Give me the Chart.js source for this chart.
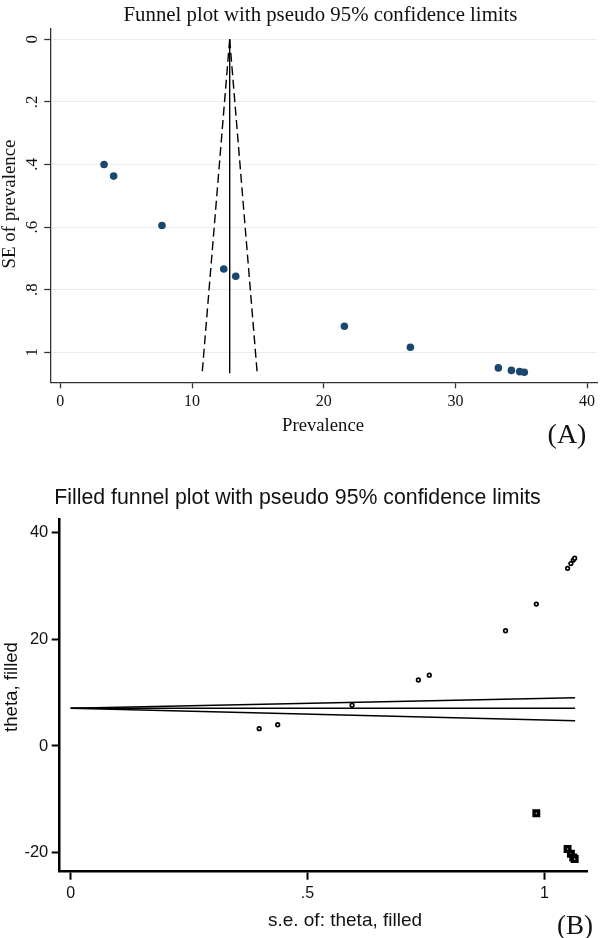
<!DOCTYPE html>
<html>
<head>
<meta charset="utf-8">
<script src="https://cdn.jsdelivr.net/npm/chart.js@4.4.1/dist/chart.umd.min.js"></script>
<style>
  html, body { margin: 0; padding: 0; background: #fff; }
  body { width: 602px; height: 938px; position: relative; overflow: hidden; }
  canvas { position: absolute; left: 0; }
  #chartA { top: 0; }
  #chartB { top: 469px; }
  .lbl { position: absolute; white-space: nowrap; line-height: 1; color: #111; transform: translate(-50%, -50%); }
  .rot { transform: translate(-50%, -50%) rotate(-90deg); }
  .serif { font-family: "Liberation Serif", "Times New Roman", serif; }
  .sans { font-family: "Liberation Sans", Arial, sans-serif; }
</style>
</head>
<body>
<canvas id="chartA" width="602" height="469"></canvas>
<canvas id="chartB" width="602" height="469"></canvas>

<div class="lbl serif" style="left:320.5px;top:14px;font-size:20.8px">Funnel plot with pseudo 95% confidence limits</div>
<div class="lbl serif rot" style="left:9px;top:204px;font-size:18.9px">SE of prevalence</div>
<div class="lbl serif" style="left:323px;top:425px;font-size:18.7px">Prevalence</div>
<div class="lbl serif" style="left:567px;top:434px;font-size:28px">(A)</div>

<div class="lbl sans" style="left:297.5px;top:498px;font-size:21.3px">Filled funnel plot with pseudo 95% confidence limits</div>
<div class="lbl sans rot" style="left:11px;top:687px;font-size:18.6px">theta, filled</div>
<div class="lbl sans" style="left:345px;top:919px;font-size:19px">s.e. of: theta, filled</div>
<div class="lbl serif" style="left:575px;top:925px;font-size:27px">(B)</div>

<script>
// (A) funnel plot: study prevalence vs its standard error
const prevalence   = [3.32, 4.05, 7.72, 12.41, 13.32, 21.57, 26.58, 33.26, 34.25, 34.88, 35.23];
const sePrevalence = [0.400, 0.437, 0.595, 0.734, 0.757, 0.917, 0.984, 1.050, 1.058, 1.062, 1.064];
const funnelSe     = [0, 1.067];
const pooledPrev   = [12.86, 12.86];
const lowerPrev    = [12.86, 10.77];
const upperPrev    = [12.86, 14.95];
const prevTicks    = [0, 10, 20, 30, 40];
const seTicks      = [0, 0.2, 0.4, 0.6, 0.8, 1];

// (B) filled funnel plot (trim and fill)
const seObserved    = [0.398, 0.437, 0.594, 0.734, 0.757, 0.918, 0.983, 1.049, 1.056, 1.061, 1.064];
const thetaObserved = [3.25, 3.98, 7.65, 12.37, 13.27, 21.6, 26.6, 33.3, 34.2, 34.85, 35.2];
const seFilled      = [0.983, 1.049, 1.056, 1.061, 1.064];
const thetaFilled   = [-12.6, -19.3, -20.2, -20.9, -21.2];
const seLine        = [0, 1.065];
const thetaCentre   = [7.07, 7.07];
const thetaUpper    = [7.07, 9.05];
const thetaLower    = [7.07, 4.74];
const thetaTicks    = [-20, 0, 20, 40];
const seTicksB      = [0, 0.5, 1];

function pts(xs, ys) {
  return xs.map((x, i) => ({ x: x, y: ys[i] }));
}
// Stata style: .2 instead of 0.2
function fmt(v) {
  return String(v).replace(/^0\./, '.').replace(/^-0\./, '-.');
}

const serifFamily = '"Liberation Serif", "Times New Roman", serif';
const sansFamily = '"Liberation Sans", Arial, sans-serif';

// ----- chart A -----
new Chart('chartA', {
  type: 'scatter',
  data: {
    datasets: [
      {
        data: pts(prevalence, sePrevalence),
        pointStyle: 'circle',
        pointRadius: 3.8,
        pointBackgroundColor: '#1a476f',
        pointBorderWidth: 0
      },
      {
        data: pts(pooledPrev, funnelSe),
        showLine: true, pointRadius: 0,
        borderColor: '#000', borderWidth: 1.4
      },
      {
        data: pts(lowerPrev, funnelSe),
        showLine: true, pointRadius: 0,
        borderColor: '#000', borderWidth: 1.4, borderDash: [9, 4.5]
      },
      {
        data: pts(upperPrev, funnelSe),
        showLine: true, pointRadius: 0,
        borderColor: '#000', borderWidth: 1.4, borderDash: [9, 4.5]
      }
    ]
  },
  options: {
    responsive: false,
    devicePixelRatio: 1,
    animation: false,
    events: [],
    layout: { padding: { left: 0, right: 5, top: 29, bottom: 0 } },
    plugins: { legend: { display: false }, tooltip: { enabled: false } },
    scales: {
      x: {
        type: 'linear',
        min: -0.73,
        max: 40.75,
        afterBuildTicks: function (s) { s.ticks = prevTicks.map(v => ({ value: v })); },
        afterFit: function (s) { s.height = 469 - 382.3; },
        border: { display: true, color: '#333', width: 1.3 },
        grid: { drawOnChartArea: false, tickColor: '#333', tickLength: 6, tickWidth: 1.3 },
        ticks: { maxRotation: 0, padding: 4, color: '#111', font: { family: serifFamily, size: 16 }, callback: fmt }
      },
      y: {
        type: 'linear',
        reverse: true,
        min: -0.033,
        max: 1.096,
        afterBuildTicks: function (s) { s.ticks = seTicks.map(v => ({ value: v })); },
        afterFit: function (s) { s.width = 50.7; },
        border: { display: true, color: '#333', width: 1.3 },
        grid: { color: '#e6eef0', lineWidth: 1, tickColor: '#333', tickLength: 6.5, tickWidth: 1.3 },
        ticks: { minRotation: 90, maxRotation: 90, crossAlign: 'center', padding: 5, color: '#111', font: { family: serifFamily, size: 17 }, callback: fmt }
      }
    }
  }
});

// ----- chart B -----
new Chart('chartB', {
  type: 'scatter',
  data: {
    datasets: [
      {
        data: pts(seObserved, thetaObserved),
        pointStyle: 'circle',
        pointRadius: 1.8,
        pointBorderWidth: 1.7,
        pointBorderColor: '#000',
        pointBackgroundColor: '#fff'
      },
      {
        data: pts(seFilled, thetaFilled),
        pointStyle: 'rect',
        pointRadius: 3.2,
        pointBorderWidth: 3.4,
        pointBorderColor: '#000',
        pointBackgroundColor: '#fff'
      },
      {
        data: pts(seLine, thetaCentre),
        showLine: true, pointRadius: 0,
        borderColor: '#000', borderWidth: 1.6
      },
      {
        data: pts(seLine, thetaUpper),
        showLine: true, pointRadius: 0,
        borderColor: '#000', borderWidth: 1.6
      },
      {
        data: pts(seLine, thetaLower),
        showLine: true, pointRadius: 0,
        borderColor: '#000', borderWidth: 1.6
      }
    ]
  },
  options: {
    responsive: false,
    devicePixelRatio: 1,
    animation: false,
    events: [],
    layout: { padding: { left: 0, right: 15, top: 50.7, bottom: 0 } },
    plugins: { legend: { display: false }, tooltip: { enabled: false } },
    scales: {
      x: {
        type: 'linear',
        min: -0.0247,
        max: 1.09,
        afterBuildTicks: function (s) { s.ticks = seTicksB.map(v => ({ value: v })); },
        afterFit: function (s) { s.height = 469 - 402.3; },
        border: { display: true, color: '#000', width: 2.5 },
        grid: { drawOnChartArea: false, tickColor: '#000', tickLength: 8.4, tickWidth: 2 },
        ticks: { maxRotation: 0, padding: 4, color: '#111', font: { family: sansFamily, size: 16 }, callback: fmt }
      },
      y: {
        type: 'linear',
        min: -23.49,
        max: 42.42,
        afterBuildTicks: function (s) { s.ticks = thetaTicks.map(v => ({ value: v })); },
        afterFit: function (s) { s.width = 59; },
        border: { display: true, color: '#000', width: 2.5 },
        grid: { drawOnChartArea: false, tickColor: '#000', tickLength: 7.3, tickWidth: 2 },
        ticks: { padding: 3.4, color: '#111', font: { family: sansFamily, size: 16.5 }, callback: fmt }
      }
    }
  }
});
</script>
</body>
</html>
